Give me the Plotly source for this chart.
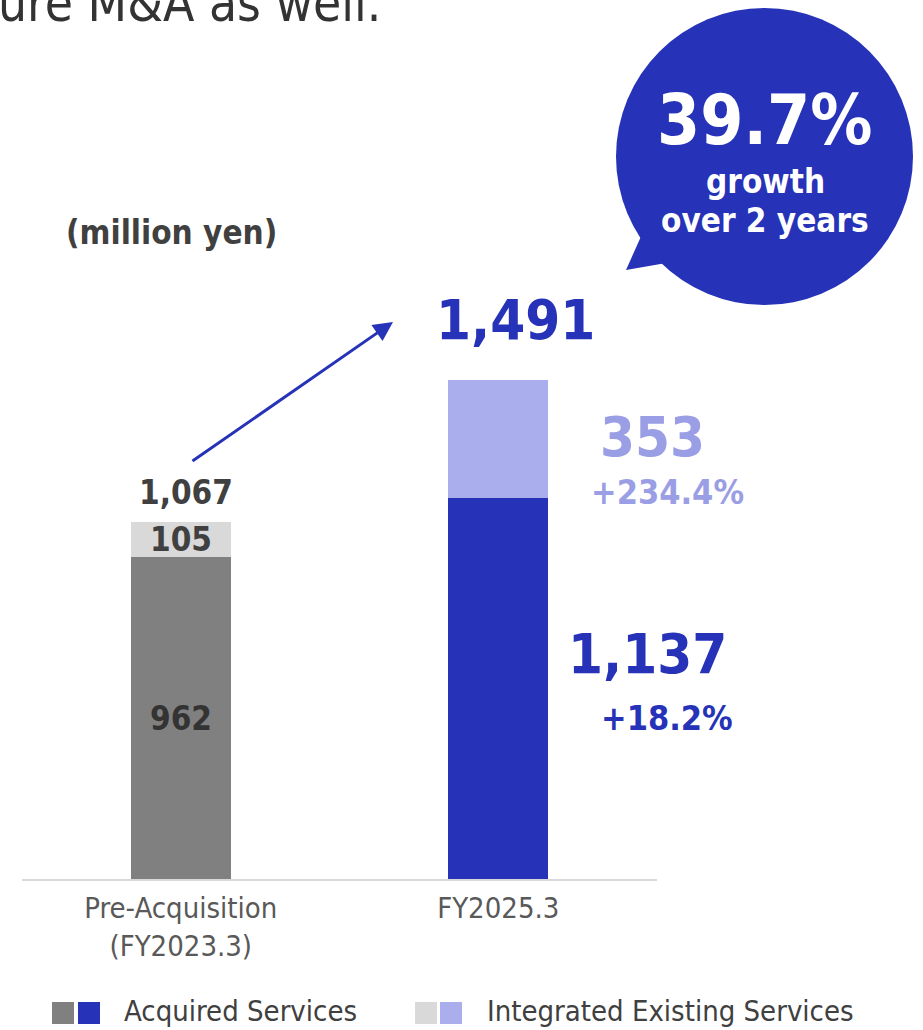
import plotly.graph_objects as go

# Segment values (million yen)
categories = ["Pre-Acquisition<br>(FY2023.3)", "FY2025.3"]
acquired = [962, 1137]
integrated = [105, 353]
totals = [1067, 1491]
growth_labels = ["+18.2%", "+234.4%"]
headline_growth = "39.7%"

acq_colors = ["#808080", "#2632B8"]
int_colors = ["#D9D9D9", "#ABAEEC"]
BLUE = "#2632B8"
LAVENDER = "#9A9EE4"
FONT = "DejaVu Sans Condensed, DejaVu Sans, Verdana, sans-serif"

W, H = 923, 1030
ML, MR, MT, MB = 22, 266, 0, 150
PW, PH = W - ML - MR, H - MT - MB


def px(x):
    return (x - ML) / PW


def py(y):
    return (H - MB - y) / PH


fig = go.Figure()
fig.add_trace(go.Bar(x=[0, 1], y=acquired, marker=dict(color=acq_colors, line_width=0),
                     width=0.315, name="Acquired Services", showlegend=False,
                     hoverinfo="skip"))
fig.add_trace(go.Bar(x=[0, 1], y=integrated, marker=dict(color=int_colors, line_width=0),
                     width=0.315, name="Integrated Existing Services", showlegend=False,
                     hoverinfo="skip"))

ann = []


def add(text, x, y, size, color, bold=True, xref="x", yref="y", xshift=0, yshift=0,
        xanchor="center", yanchor="middle"):
    t = f"<b>{text}</b>" if bold else text
    ann.append(dict(text=t, x=x, y=y, xref=xref, yref=yref, xshift=xshift, yshift=yshift,
                    xanchor=xanchor, yanchor=yanchor, showarrow=False,
                    font=dict(family=FONT, size=size, color=color)))


# first bar labels
add(f"{acquired[0]:,}", 0, acquired[0] / 2, 33, "#333333")
add(f"{integrated[0]:,}", 0, acquired[0] + integrated[0] / 2, 33, "#404040")
add(f"{totals[0]:,}", 0, totals[0], 33, "#404040", xshift=5, yshift=29)

# second bar labels
add(f"{totals[1]:,}", 1, totals[1], 56, BLUE, xshift=17, yshift=60)
add(f"{integrated[1]:,}", 1, acquired[1] + integrated[1] / 2, 56, LAVENDER, xshift=154, yshift=2)
add(growth_labels[1], 1, acquired[1] + integrated[1] / 2, 34, LAVENDER, xshift=169, yshift=-53)
add(f"{acquired[1]:,}", 1, acquired[1] / 2, 56, BLUE, xshift=149, yshift=36)
add(growth_labels[0], 1, acquired[1] / 2, 34, BLUE, xshift=169, yshift=-29)

# unit label and heading fragment
add("(million yen)", px(171), py(232), 33, "#404040", xref="paper", yref="paper")
add("ure M&A as well.", px(-4), py(4), 51, "#333333", bold=False, xref="paper",
    yref="paper", xanchor="left")

# bubble text
add(headline_growth, px(764), py(120), 69, "white", xref="paper", yref="paper")
add("growth", px(765), py(182), 33, "white", xref="paper", yref="paper")
add("over 2 years", px(765), py(220), 33, "white", xref="paper", yref="paper")

# growth arrow (tail offset given in pixels from the head)
ann.append(dict(x=px(393), y=py(322), ax=191 - 393, ay=462 - 322, xref="paper", yref="paper",
                axref="pixel", ayref="pixel", showarrow=True, arrowhead=2, arrowsize=1.3,
                arrowwidth=3, arrowcolor=BLUE, text=""))

# legend text
add("Acquired Services", px(122), py(1011), 29, "#404040", bold=False, xref="paper",
    yref="paper", xanchor="left")
add("Integrated Existing Services", px(485), py(1011), 29, "#404040", bold=False,
    xref="paper", yref="paper", xanchor="left")

shapes = []
# speech bubble
shapes.append(dict(type="circle", xref="paper", yref="paper", x0=px(616), x1=px(913),
                   y0=py(305), y1=py(8), fillcolor=BLUE, line_width=0, layer="above"))
tail = f"M {px(626)} {py(270)} L {px(643)} {py(232)} L {px(672)} {py(262)} Z"
shapes.append(dict(type="path", xref="paper", yref="paper", path=tail, fillcolor=BLUE,
                   line_width=0, layer="above"))
# baseline
shapes.append(dict(type="line", xref="paper", yref="paper", x0=0, x1=1, y0=0, y1=0,
                   line=dict(color="#D9D9D9", width=2)))
# legend swatches
for x0, c in [(52, acq_colors[0]), (78, acq_colors[1]), (415, int_colors[0]), (440, int_colors[1])]:
    shapes.append(dict(type="rect", xref="paper", yref="paper", x0=px(x0), x1=px(x0 + 22),
                       y0=py(1024), y1=py(1002), fillcolor=c, line_width=0))

fig.update_layout(
    width=W, height=H, margin=dict(l=ML, r=MR, t=MT, b=MB),
    barmode="stack", plot_bgcolor="white", paper_bgcolor="white",
    showlegend=False, annotations=ann, shapes=shapes,
    xaxis=dict(range=[-0.5, 1.5], tickvals=[0, 1], ticktext=categories, showgrid=False,
               zeroline=False, showline=False, ticks="", ticklabelstandoff=8,
               tickfont=dict(family=FONT, size=29, color="#595959")),
    yaxis=dict(range=[0, 2620], visible=False, showgrid=False, zeroline=False),
)

fig.write_html("out.html")
